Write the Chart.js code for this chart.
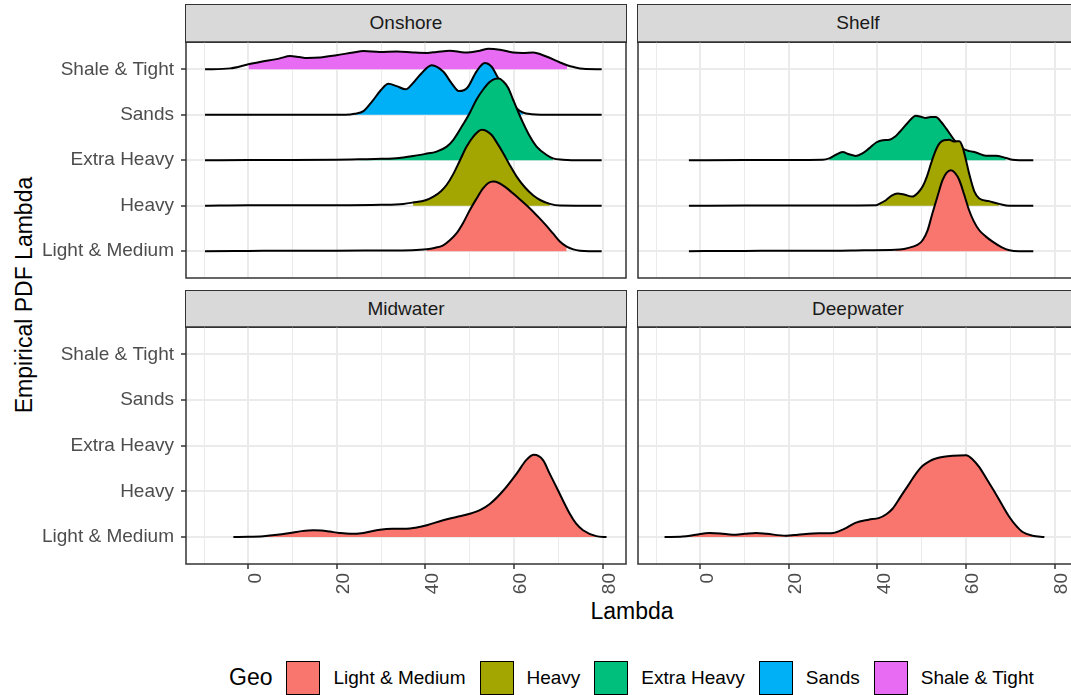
<!DOCTYPE html>
<html>
<head>
<meta charset="utf-8">
<script src="https://cdn.jsdelivr.net/npm/chart.js@4.4.1/dist/chart.umd.min.js"></script>
<style>
html,body{margin:0;padding:0;background:#fff;}
#root{position:relative;width:1071px;height:695px;overflow:hidden;background:#fff;font-family:'Liberation Sans',Arial,Helvetica,sans-serif;}
#root canvas{position:absolute;}
.strip{position:absolute;box-sizing:border-box;background:#D9D9D9;border:1.5px solid #333333;color:#1A1A1A;font-size:19px;display:flex;align-items:center;justify-content:center;white-space:nowrap;}
.ytitle{position:absolute;left:23.5px;top:295px;transform:translate(-50%,-50%) rotate(-90deg);font-size:23px;color:#000;white-space:nowrap;}
.xtitle{position:absolute;left:632px;top:611px;transform:translate(-50%,-50%);font-size:23px;color:#000;white-space:nowrap;}
#legend{position:absolute;left:229px;top:660px;height:35px;display:flex;align-items:center;white-space:nowrap;}
#legend .ttl{font-size:23px;color:#000;margin-right:14px;}
#legend .key{box-sizing:border-box;width:34px;height:34px;border:1.5px solid #000;margin-right:13px;}
#legend .lab{font-size:19px;color:#000;margin-right:14px;}
</style>
</head>
<body>
<div id="root">
  <div class="ytitle">Empirical PDF Lambda</div>
  <div class="xtitle">Lambda</div>
  <div id="legend"></div>
</div>
<script>
// ---------- data ----------
const categories = ['Light & Medium', 'Heavy', 'Extra Heavy', 'Sands', 'Shale & Tight'];
const facetTitles = ['Onshore', 'Shelf', 'Midwater', 'Deepwater'];
const legendTitle = 'Geo';
const xTickValues = [0, 20, 40, 60, 80];
const xMinorValues = [-10, 10, 30, 50, 70];
const xTitle = 'Lambda';
const yTitle = 'Empirical PDF Lambda';

// ridges: [lambda, relative density height]
const onshoreShale = [[-9.8,0],[-4.1,0.02],[0,0.11],[2.6,0.16],[7.1,0.24],[9.4,0.29],[11.5,0.27],[13.2,0.25],[16.2,0.26],[19.9,0.31],[23.7,0.37],[26,0.4],[29.7,0.38],[33.5,0.39],[37.2,0.37],[40.3,0.36],[42.5,0.38],[45.5,0.41],[48.9,0.37],[52.3,0.41],[54.2,0.45],[56.8,0.43],[59.8,0.37],[62,0.36],[64.3,0.37],[67.3,0.28],[70.4,0.15],[72,0.09],[73.5,0.05],[75.6,0.01],[79.8,0]];
const onshoreSands = [[-9.8,0],[22,0],[24,0.02],[26,0.08],[28,0.3],[30,0.55],[31.6,0.68],[33.5,0.63],[35.5,0.56],[37.2,0.7],[38.8,0.88],[41.4,1.09],[44,0.95],[46,0.68],[47.6,0.52],[49.5,0.6],[51.5,0.95],[53.4,1.14],[55,1.05],[56,0.88],[57.5,0.62],[59,0.35],[60.5,0.15],[62,0.05],[64,0.01],[66,0],[79.8,0]];
const onshoreExtraHeavy = [[-9.8,0],[0,0.005],[10,0.005],[20,0.01],[25,0.02],[30,0.03],[34,0.05],[37.2,0.095],[40,0.14],[42.5,0.19],[44.8,0.3],[46.3,0.45],[48.2,0.74],[50,1.04],[51.5,1.33],[53,1.55],[54.5,1.72],[55.7,1.79],[56.6,1.8],[57.6,1.73],[58.7,1.59],[59.8,1.33],[61,1.05],[62.1,0.81],[63.6,0.52],[65.1,0.3],[67.3,0.12],[68.8,0.04],[71,0.01],[73,0],[79.8,0]];
const onshoreHeavy = [[-9.8,0],[0,0.01],[10,0.01],[20,0.01],[30,0.02],[35,0.04],[37.2,0.07],[40,0.12],[41.8,0.2],[43.5,0.32],[44.8,0.46],[46.3,0.7],[47.8,1.0],[49.3,1.3],[50.8,1.52],[52.7,1.67],[54.9,1.56],[56.3,1.36],[57.6,1.15],[59,0.9],[60.6,0.64],[62.5,0.4],[64.3,0.23],[66,0.12],[68.1,0.04],[70.4,0.005],[79.8,0]];
const onshoreLight = [[-9.8,0],[0,0.005],[10,0.01],[20,0.01],[30,0.015],[37,0.02],[40.3,0.04],[42,0.07],[44,0.13],[45.5,0.24],[47,0.39],[48.5,0.62],[50,0.9],[51.5,1.15],[53,1.38],[54.2,1.5],[55.3,1.53],[56.6,1.5],[57.9,1.42],[60.6,1.2],[63.6,0.94],[65.8,0.72],[67.3,0.56],[68.8,0.39],[70.3,0.22],[71.9,0.1],[73.4,0.04],[74.9,0.01],[77,0],[79.8,0]];
const onshoreFillRanges = [[40.3,71.9],[37.2,68.1],[25,68.8],[24,62],[0,72]];

const shelfExtraHeavy = [[-2.6,0],[10,0.005],[20,0.005],[27.6,0.01],[29.1,0.04],[30.6,0.12],[32.1,0.18],[33.6,0.13],[35.1,0.095],[36.6,0.15],[38.1,0.26],[39.7,0.39],[41.2,0.44],[42.7,0.45],[44,0.52],[45,0.62],[46.8,0.82],[48.7,0.98],[50,0.95],[50.9,0.93],[52,0.95],[53.2,0.95],[54.4,0.84],[55.5,0.7],[57.3,0.45],[58.5,0.31],[59.6,0.24],[60.8,0.2],[62.2,0.17],[64.5,0.1],[66.7,0.1],[69,0.05],[70.5,0.01],[72,0],[75.2,0]];
const shelfHeavy = [[-2.6,0],[10,0.003],[20,0.003],[30,0.005],[39.7,0.01],[40.4,0.04],[41.9,0.12],[43.2,0.22],[44.5,0.27],[46.2,0.24],[47.9,0.2],[49,0.27],[50.2,0.42],[51.2,0.65],[52.1,0.93],[53,1.18],[54,1.37],[55,1.44],[56.2,1.45],[57.3,1.41],[58.5,1.42],[59.2,1.3],[60,1.0],[60.7,0.71],[61.9,0.31],[63,0.16],[65.2,0.1],[67.5,0.04],[69.8,0],[75.2,0]];
const shelfLight = [[-2.6,0],[10,0.005],[20,0.01],[30,0.01],[37,0.02],[44,0.03],[46,0.05],[48,0.1],[49.2,0.15],[50.2,0.24],[51.3,0.45],[52.4,0.83],[53.6,1.22],[54.7,1.56],[55.6,1.72],[56.6,1.78],[57.5,1.72],[58.5,1.56],[59.6,1.24],[60.7,0.9],[61.8,0.65],[63,0.46],[64.5,0.32],[66,0.21],[68,0.09],[69.8,0.02],[72,0],[75.2,0]];
const shelfFillRanges = [[44,69.8],[40.4,67.5],[29.1,69],null,null];

const midwaterLight = [[-3.4,0],[0,0.005],[3.4,0.02],[6.5,0.05],[9.4,0.09],[12,0.13],[14.7,0.15],[16.5,0.145],[18.4,0.12],[20.5,0.09],[23,0.07],[26,0.09],[29.7,0.16],[32.5,0.18],[35.7,0.18],[38,0.21],[40.3,0.26],[44,0.37],[47,0.44],[50,0.51],[52.5,0.6],[54.6,0.73],[57.6,1.02],[60.6,1.39],[62.8,1.69],[64.5,1.8],[66.6,1.68],[68,1.4],[69.6,1.09],[72.6,0.51],[74,0.3],[75.6,0.15],[78.6,0.02],[80.9,0]];
const midwaterFillRanges = [[0,78.6],null,null,null,null];

const deepwaterLight = [[-8.1,0],[-4,0.01],[-1,0.05],[2,0.09],[4.5,0.08],[7.3,0.05],[10,0.07],[12.6,0.09],[15,0.07],[19.3,0.03],[22,0.05],[25.4,0.08],[30,0.09],[32.5,0.18],[35,0.31],[38,0.38],[40.4,0.42],[42,0.5],[43.4,0.62],[45.2,0.88],[47.2,1.17],[48.7,1.39],[50.2,1.56],[51.7,1.66],[53.2,1.72],[55,1.76],[57,1.78],[60,1.79],[61.5,1.7],[63,1.53],[64.8,1.25],[66.7,0.95],[68.3,0.68],[69.8,0.44],[71.3,0.25],[72.8,0.11],[75,0.03],[77.7,0]];
const deepwaterFillRanges = [[-4,75],null,null,null,null];

// ---------- styles / layout ----------
const palette = ['#F8766D', '#A3A500', '#00BF7D', '#00B0F6', '#E76BF3'];
const FONT = "'Liberation Sans', Arial, Helvetica, sans-serif";
Chart.defaults.font.family = FONT;

const facets = [
  { title: facetTitles[0], ridges: [onshoreLight, onshoreHeavy, onshoreExtraHeavy, onshoreSands, onshoreShale], fills: onshoreFillRanges,
    showY: true, showX: false, canvas: {left: 0, top: 40, width: 630, height: 242}, strip: {left: 185.25, top: 4, width: 441.5, height: 38.75} },
  { title: facetTitles[1], ridges: [shelfLight, shelfHeavy, shelfExtraHeavy, null, null], fills: shelfFillRanges,
    showY: false, showX: false, canvas: {left: 630, top: 40, width: 452, height: 242}, strip: {left: 637.25, top: 4, width: 441.5, height: 38.75} },
  { title: facetTitles[2], ridges: [midwaterLight, null, null, null, null], fills: midwaterFillRanges,
    showY: true, showX: true, canvas: {left: 0, top: 325, width: 630, height: 290}, strip: {left: 185.25, top: 290, width: 441.5, height: 37.75} },
  { title: facetTitles[3], ridges: [deepwaterLight, null, null, null, null], fills: deepwaterFillRanges,
    showY: false, showX: true, canvas: {left: 630, top: 325, width: 452, height: 290}, strip: {left: 637.25, top: 290, width: 441.5, height: 37.75} }
];

const root = document.getElementById('root');
document.querySelector('.xtitle').textContent = xTitle;
document.querySelector('.ytitle').textContent = yTitle;

// legend
const legend = document.getElementById('legend');
legend.innerHTML = '<span class="ttl">' + legendTitle + '</span>' +
  categories.map((c, i) => '<span class="key" style="background:' + palette[i] + '"></span><span class="lab">' + c.replace('&', '&amp;') + '</span>').join('');

const panelBorder = {
  id: 'panelBorder',
  afterDraw(chart) {
    const {ctx, chartArea: a} = chart;
    ctx.save();
    ctx.strokeStyle = '#333333';
    ctx.lineWidth = 1.5;
    ctx.strokeRect(a.left, a.top, a.right - a.left, a.bottom - a.top);
    ctx.restore();
  }
};

function buildDatasets(f) {
  const ds = [];
  f.ridges.forEach((pts, i) => {
    if (!pts) return;
    const base = i + 1;
    const range = f.fills[i];
    ds.push({
      data: pts.map(([x, h]) => ({x: x, y: base + h})),
      borderColor: '#000000', borderWidth: 2, pointRadius: 0, fill: false,
      cubicInterpolationMode: 'monotone', clip: 4
    });
    ds.push({
      data: pts.filter(([x]) => x >= range[0] && x <= range[1]).map(([x, h]) => ({x: x, y: base + h})),
      borderColor: 'rgba(0,0,0,0)', borderWidth: 0, backgroundColor: palette[i], pointRadius: 0,
      fill: {value: base}, cubicInterpolationMode: 'monotone'
    });
  });
  return ds;
}

function zeroPad(sc) { sc.paddingTop = 0; sc.paddingBottom = 0; sc.paddingLeft = 0; sc.paddingRight = 0; }

facets.forEach(f => {
  const s = document.createElement('div');
  s.className = 'strip';
  s.style.left = f.strip.left + 'px'; s.style.top = f.strip.top + 'px';
  s.style.width = f.strip.width + 'px'; s.style.height = f.strip.height + 'px';
  s.textContent = f.title;
  root.appendChild(s);

  const cv = document.createElement('canvas');
  cv.width = f.canvas.width; cv.height = f.canvas.height;
  cv.style.left = f.canvas.left + 'px'; cv.style.top = f.canvas.top + 'px';
  cv.style.width = f.canvas.width + 'px'; cv.style.height = f.canvas.height + 'px';
  root.appendChild(cv);

  const isMajor = v => xTickValues.includes(v);
  new Chart(cv.getContext('2d'), {
    type: 'line',
    data: { datasets: buildDatasets(f) },
    options: {
      responsive: false, animation: false, devicePixelRatio: 1,
      layout: { padding: { top: 2, right: 4, bottom: f.showX ? 0 : 4, left: 0 } },
      plugins: { legend: { display: false }, tooltip: { enabled: false } },
      elements: { line: { tension: 0 } },
      scales: {
        x: {
          type: 'linear', min: -14.1, max: 85.3,
          afterBuildTicks: sc => { sc.ticks = xMinorValues.concat(xTickValues).sort((a, b) => a - b).map(v => ({value: v})); },
          afterFit: sc => { sc.height = f.showX ? (f.canvas.height - 2 - 237) : 0; zeroPad(sc); },
          border: { display: false },
          grid: {
            color: '#EBEBEB',
            lineWidth: c => (c.tick && isMajor(c.tick.value)) ? 2 : 1,
            drawTicks: f.showX, tickLength: 5, tickWidth: 1.5,
            tickColor: c => (c.tick && isMajor(c.tick.value)) ? '#333333' : 'rgba(0,0,0,0)'
          },
          ticks: {
            display: f.showX, autoSkip: false, maxRotation: 90, minRotation: 90, padding: 4, labelOffset: 7,
            color: '#4D4D4D', font: { size: 19 },
            callback: v => isMajor(v) ? String(v) : ''
          }
        },
        y: {
          type: 'linear', min: 0.41, max: 5.6,
          afterBuildTicks: sc => { sc.ticks = categories.map((c, i) => ({value: i + 1})); },
          afterFit: sc => { sc.width = f.showY ? 186 : 8; zeroPad(sc); },
          border: { display: false },
          grid: { color: '#EBEBEB', lineWidth: 2, drawTicks: f.showY, tickLength: 5, tickWidth: 1.5, tickColor: '#333333' },
          ticks: {
            display: f.showY, autoSkip: false, padding: 7, color: '#4D4D4D', font: { size: 19 },
            callback: v => categories[Math.round(v) - 1]
          }
        }
      }
    },
    plugins: [panelBorder]
  });
});
</script>
</body>
</html>
